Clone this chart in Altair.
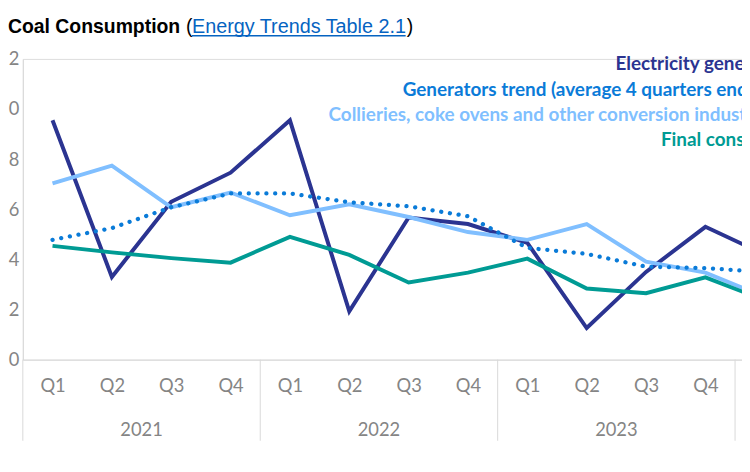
import altair as alt
import pandas as pd

# ---------------- data ----------------
quarters = ["Q1", "Q2", "Q3", "Q4", "Q1", "Q2", "Q3", "Q4", "Q1", "Q2", "Q3", "Q4", "Q1"]
years = ["2021"] * 4 + ["2022"] * 4 + ["2023"] * 4 + ["2024"]
year_labels = ["2021", "2022", "2023"]

electricity = [0.955, 0.33, 0.63, 0.746, 0.955, 0.193, 0.567, 0.541, 0.466, 0.126, 0.35, 0.53, 0.42]
gen_trend = [0.478, 0.525, 0.608, 0.663, 0.663, 0.628, 0.612, 0.572, 0.446, 0.422, 0.371, 0.365, 0.35]
collieries = [0.703, 0.774, 0.608, 0.667, 0.576, 0.62, 0.569, 0.509, 0.478, 0.541, 0.391, 0.347, 0.25]
final_cons = [0.454, 0.428, 0.405, 0.387, 0.49, 0.418, 0.308, 0.347, 0.403, 0.284, 0.265, 0.328, 0.237]

series_names = [
    "Electricity generators",
    "Generators trend (average 4 quarters ending)",
    "Collieries, coke ovens and other conversion industries",
    "Final consumption",
]
series_colors = ["#2B3491", "#0A7BD8", "#80BFFF", "#009B94"]
y_ticks = [0.0, 0.2, 0.4, 0.6, 0.8, 1.0, 1.2]

title_main = "Coal Consumption"
title_link = "Energy Trends Table 2.1"

# ---------------- tables ----------------
idx = list(range(len(quarters)))
rows = []
for name, vals in zip(series_names, [electricity, gen_trend, collieries, final_cons]):
    for i, v in enumerate(vals):
        rows.append({"i": i, "quarter": quarters[i], "year": years[i], "series": name, "value": v})
df = pd.DataFrame(rows)

year_df = pd.DataFrame({
    "year": year_labels,
    "center": [sum(i for i in idx if years[i] == y) / sum(1 for i in idx if years[i] == y) for y in year_labels],
})
bounds = [min(i for i in idx if years[i] == y) - 0.5 for y in year_labels]
bounds.append(max(i for i in idx if years[i] == year_labels[-1]) + 0.5)
sep_df = pd.DataFrame({"b": bounds})

W, H = 727, 304
step = 60
xscale = alt.Scale(domain=[-0.5, -0.5 + W / step], nice=False, zero=False)
yscale = alt.Scale(domain=[0, 1.2], nice=False, zero=False)
cscale = alt.Scale(domain=series_names, range=series_colors)

GRID = "#D9D9D9"
LABEL = "#858585"
FONT = "Lato"

# quarter label expression built from the quarters list
q_expr = "''"
for i in reversed(range(12)):
    q_expr = f"datum.value == {i} ? '{quarters[i]}' : ({q_expr})"

x_axis = alt.Axis(
    values=list(range(12)),
    labelExpr=q_expr,
    title=None, grid=False, ticks=False,
    domainColor=GRID, domainWidth=1,
    labelFont=FONT, labelFontSize=18.5, labelColor=LABEL, labelPadding=17,
)
y_axis = alt.Axis(
    values=y_ticks,
    labelExpr="slice(format(datum.value, '.1f'), -1)",
    title=None, grid=False, ticks=False,
    domainColor=GRID, domainWidth=1,
    labelFont=FONT, labelFontSize=18.5, labelColor=LABEL, labelPadding=4,
)

solid = alt.Chart(df).transform_filter(
    alt.datum.series != series_names[1]
).mark_line(strokeWidth=4, clip=True, strokeJoin="miter").encode(
    x=alt.X("i:Q", scale=xscale, axis=x_axis),
    y=alt.Y("value:Q", scale=yscale, axis=y_axis),
    color=alt.Color("series:N", scale=cscale, legend=None),
    detail="series:N",
    order="i:Q",
)

trend = alt.Chart(df).transform_filter(
    alt.datum.series == series_names[1]
).mark_line(strokeWidth=4.3, strokeDash=[0.1, 8.8], strokeCap="round", clip=True).encode(
    x=alt.X("i:Q", scale=xscale),
    y=alt.Y("value:Q", scale=yscale),
    color=alt.Color("series:N", scale=cscale, legend=None),
    order="i:Q",
)

seps = alt.Chart(sep_df).mark_rule(color=GRID, strokeWidth=1).encode(
    x=alt.X("b:Q", scale=xscale),
    y=alt.value(H),
    y2=alt.value(H + 82),
)

year_text = alt.Chart(year_df).mark_text(
    font=FONT, fontSize=18.5, color=LABEL, baseline="middle", align="center"
).encode(
    x=alt.X("center:Q", scale=xscale),
    y=alt.value(H + 71),
    text="year:N",
)

# legend entries (coloured text, as in the original)
leg_x = [599, 384, 309, 645]
leg_y = [5, 31.5, 57, 82]
legend_layers = []
for name, color, lx, ly in zip(series_names, series_colors, leg_x, leg_y):
    legend_layers.append(
        alt.Chart(pd.DataFrame({"series": [name]})).mark_text(
            font=FONT, fontSize=19.1, fontWeight="bold", align="left", baseline="middle", color=color
        ).encode(x=alt.value(lx), y=alt.value(ly), text="series:N")
    )

tsize = 19.6
t1 = alt.Chart(pd.DataFrame({"t": [title_main]})).mark_text(
    font="Liberation Sans", fontSize=tsize, fontWeight="bold", color="#000000", align="left", baseline="alphabetic"
).encode(x=alt.value(-15), y=alt.value(-26.5), text="t:N")
t2 = alt.Chart(pd.DataFrame({"t": ["("]})).mark_text(
    font="Liberation Sans", fontSize=tsize, color="#000000", align="left", baseline="alphabetic"
).encode(x=alt.value(165), y=alt.value(-26.5), text="t:N")
t3 = alt.Chart(pd.DataFrame({"t": [title_link]})).mark_text(
    font="Liberation Sans", fontSize=20.0, color="#0563C1", align="left", baseline="alphabetic"
).encode(x=alt.value(171), y=alt.value(-26.5), text="t:N")
t4 = alt.Chart(pd.DataFrame({"t": [")"]})).mark_text(
    font="Liberation Sans", fontSize=tsize, color="#000000", align="left", baseline="alphabetic"
).encode(x=alt.value(388), y=alt.value(-26.5), text="t:N")
underline = alt.Chart(pd.DataFrame({"t": [title_link]})).mark_rule(color="#0563C1", strokeWidth=1.5).encode(
    x=alt.value(171), x2=alt.value(387), y=alt.value(-23.5)
)

chart = alt.layer(
    solid, trend, seps, year_text, *legend_layers, t1, t2, t3, t4, underline
).properties(
    width=W, height=H,
    autosize=alt.AutoSizeParams(type="none"),
    padding={"left": 15, "top": 49, "right": 0, "bottom": 100},
).configure_view(stroke=None).configure(background="white")

chart.save("out.html", embed_options={"renderer": "svg", "actions": False})
